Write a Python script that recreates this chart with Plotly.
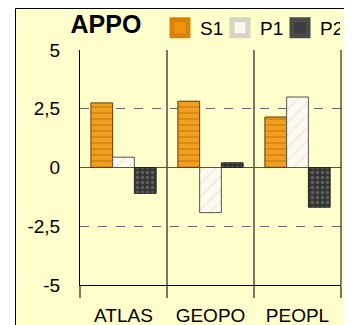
import plotly.graph_objects as go

categories = ["ATLAS", "GEOPO", "PEOPL"]
series_names = ["S1", "P1", "P2"]
s1_values = [2.75, 2.82, 2.15]
p1_values = [0.44, -1.92, 3.0]
p2_values = [-1.1, 0.2, -1.69]
y_tick_values = [-5, -2.5, 0, 2.5, 5]
y_tick_labels = ["-5", "-2,5", "0", "2,5", "5"]
chart_title = "APPO"

# the page body adds an 8px offset; the figure is sized to the remaining window
OFF = 8
W, H = 352 - OFF, 325 - OFF
ML, MR, MT, MB = 80 - OFF, 11, 50 - OFF, 40
PW, PH = W - ML - MR, H - MT - MB


def fx(page_x):
    return (page_x - OFF - ML) / PW


def fy(page_y):
    return (H - MB - (page_y - OFF)) / PH


styles = {
    "S1": dict(color="#EE9410", pat=dict(shape="-", fgcolor="#B85E00", bgcolor="#F0A020", size=6, solidity=0.25),
               line="#6A3800", leg_line="#D98208"),
    "P1": dict(color="#FBF8EC", pat=dict(shape="/", fgcolor="#E6D6AE", bgcolor="#FCFAF2", size=9, solidity=0.15),
               line="#555555", leg_line="#D8D4C4"),
    "P2": dict(color="#3C3C3C", pat=dict(shape=".", fgcolor="#8A8A8A", bgcolor="#353535", size=5, solidity=0.35),
               line="#222222", leg_line="#4A4A4A"),
}

fig = go.Figure()
for name, vals in zip(series_names, [s1_values, p1_values, p2_values]):
    st = styles[name]
    fig.add_trace(go.Bar(
        x=categories, y=vals, name=name, showlegend=False,
        marker=dict(color=st["color"], pattern=st["pat"], line=dict(color=st["line"], width=1)),
    ))
for name in series_names:
    st = styles[name]
    fig.add_trace(go.Scatter(
        x=[None], y=[None], mode="markers", name=name, showlegend=True,
        marker=dict(symbol="square", size=16, color=st["color"], line=dict(color=st["leg_line"], width=5)),
    ))

font_family = "Liberation Sans, Arial, sans-serif"

fig.update_layout(
    width=W, height=H,
    margin=dict(l=ML, r=MR, t=MT, b=MB, pad=0, autoexpand=False),
    paper_bgcolor="white",
    plot_bgcolor="rgba(0,0,0,0)",
    barmode="group", bargap=0.25, bargroupgap=0,
    font=dict(family=font_family, size=19, color="black"),
    title=dict(text="<b>" + chart_title + "</b>", font=dict(size=25, family=font_family),
               x=(106 - OFF) / W, xref="container", xanchor="center",
               y=1 - (24.5 - OFF) / H, yref="container", yanchor="middle"),
    showlegend=True,
    legend=dict(orientation="h", xref="container", yref="container", x=(160 - OFF) / W, xanchor="left",
                y=1 - (28 - OFF) / H, yanchor="middle",
                bgcolor="rgba(0,0,0,0)", font=dict(size=19), itemsizing="trace",
                entrywidth=15, tracegroupgap=0, borderwidth=0),
    xaxis=dict(showline=True, linecolor="black", linewidth=1, automargin=False, tickangle=0,
               showgrid=True, gridcolor="#7A7A62", gridwidth=2,
               tickson="boundaries", ticks="outside", ticklen=12, tickcolor="#7A7A62", tickwidth=2,
               ticklabelstandoff=13, fixedrange=True),
    yaxis=dict(range=[-5, 5], tickvals=y_tick_values, ticktext=y_tick_labels, automargin=False,
               showline=True, linecolor="black", linewidth=1,
               showgrid=True, gridcolor="#666666", gridwidth=1, griddash="dash",
               zeroline=True, zerolinecolor="#555555", zerolinewidth=1,
               ticks="", ticklabelstandoff=15, fixedrange=True),
    shapes=[
        dict(type="rect", xref="paper", yref="paper", x0=fx(15.5), x1=fx(360), y0=fy(340), y1=fy(8.5),
             fillcolor="#FFFFCC", line=dict(color="black", width=1), layer="below"),
        dict(type="line", xref="paper", yref="paper", x0=1, x1=1, y0=0, y1=1,
             line=dict(color="black", width=1)),
    ],
)

fig.write_html("out.html")
